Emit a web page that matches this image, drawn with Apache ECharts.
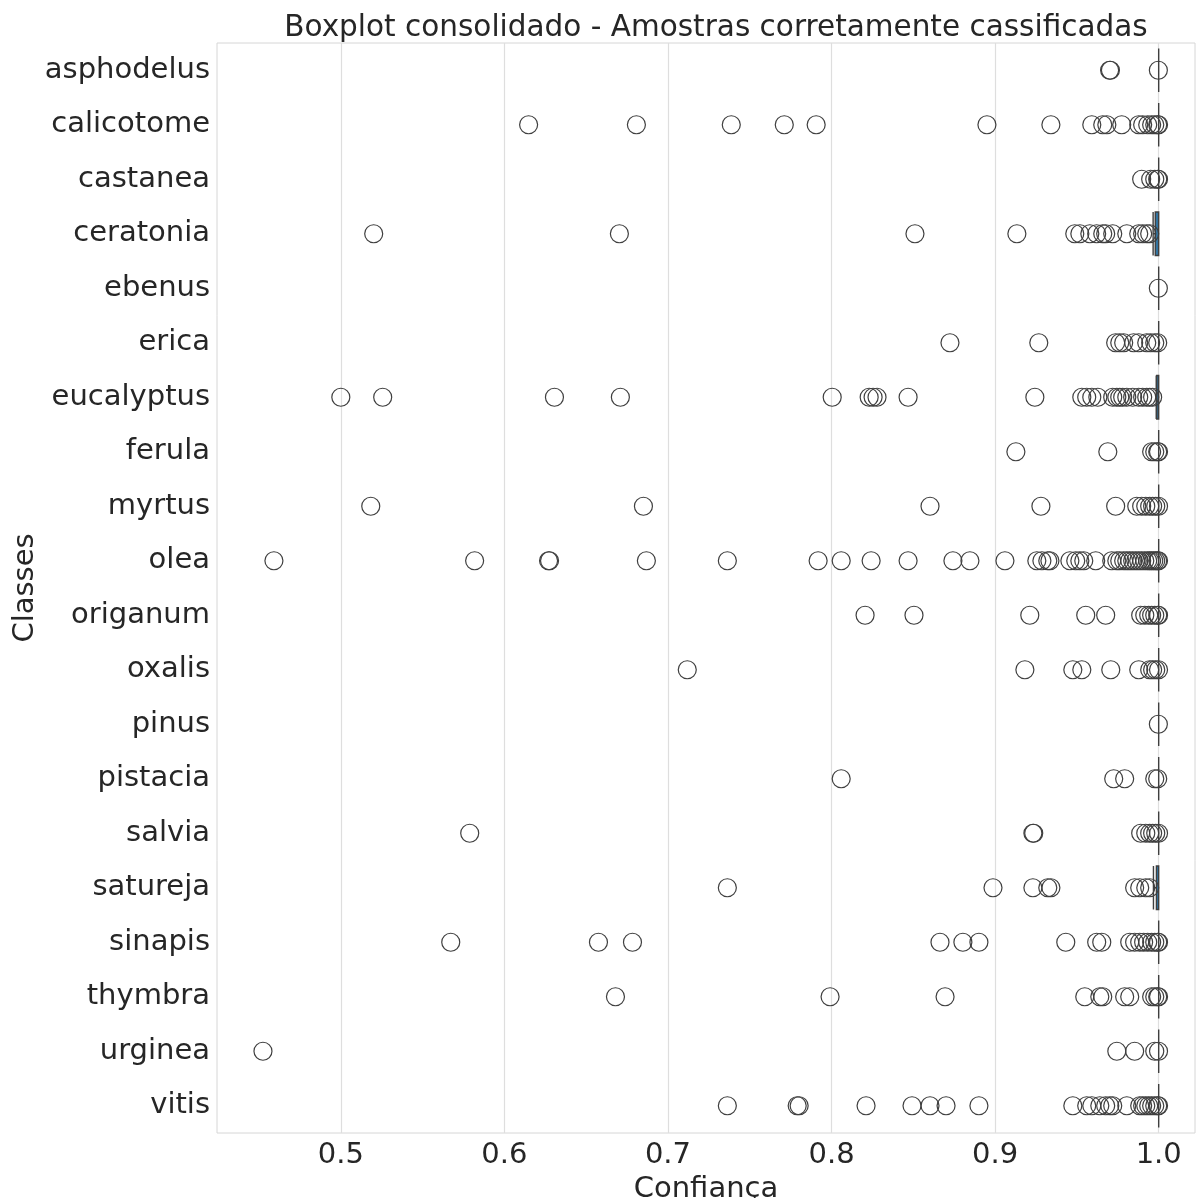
<!DOCTYPE html>
<html>
<head>
<meta charset="utf-8">
<title>Boxplot consolidado</title>
<script src="https://cdn.jsdelivr.net/npm/echarts@6/dist/echarts.min.js"></script>
<style>
  html, body { margin: 0; padding: 0; background: #ffffff; }
  #chart { width: 1196px; height: 1198px; }
</style>
</head>
<body>
<div id="chart"></div>
<script>
// Classes, top to bottom
const classes = ['asphodelus', 'calicotome', 'castanea', 'ceratonia', 'ebenus', 'erica',
  'eucalyptus', 'ferula', 'myrtus', 'olea', 'origanum', 'oxalis', 'pinus', 'pistacia',
  'salvia', 'satureja', 'sinapis', 'thymbra', 'urginea', 'vitis'];

// Box statistics per class: [whisker low, Q1, median, Q3, whisker high]
const boxStats = [
  [1.0, 1.0, 1.0, 1.0, 1.0],          // asphodelus
  [1.0, 1.0, 1.0, 1.0, 1.0],          // calicotome
  [1.0, 1.0, 1.0, 1.0, 1.0],          // castanea
  [0.9966, 0.9979, 1.0, 1.0, 1.0],    // ceratonia
  [1.0, 1.0, 1.0, 1.0, 1.0],          // ebenus
  [1.0, 1.0, 1.0, 1.0, 1.0],          // erica
  [0.9985, 0.9988, 1.0, 1.0, 1.0],    // eucalyptus
  [1.0, 1.0, 1.0, 1.0, 1.0],          // ferula
  [1.0, 1.0, 1.0, 1.0, 1.0],          // myrtus
  [1.0, 1.0, 1.0, 1.0, 1.0],          // olea
  [1.0, 1.0, 1.0, 1.0, 1.0],          // origanum
  [1.0, 1.0, 1.0, 1.0, 1.0],          // oxalis
  [1.0, 1.0, 1.0, 1.0, 1.0],          // pinus
  [1.0, 1.0, 1.0, 1.0, 1.0],          // pistacia
  [1.0, 1.0, 1.0, 1.0, 1.0],          // salvia
  [0.9968, 0.9986, 1.0, 1.0, 1.0],    // satureja
  [1.0, 1.0, 1.0, 1.0, 1.0],          // sinapis
  [1.0, 1.0, 1.0, 1.0, 1.0],          // thymbra
  [1.0, 1.0, 1.0, 1.0, 1.0],          // urginea
  [1.0, 1.0, 1.0, 1.0, 1.0]           // vitis
];

// Outlier confidences per class
const outAsphodelus = [0.970, 0.9705, 0.9998];
const outCalicotome = [0.6148, 0.6807, 0.7387, 0.7711, 0.7906, 0.895, 0.9341, 0.9591, 0.9658,
  0.9683, 0.9774, 0.9878, 0.9902, 0.9933, 0.9957, 0.9976, 0.9994, 0.9999];
const outCastanea = [0.9896, 0.9951, 0.9976, 0.9994, 0.9999];
const outCeratonia = [0.5201, 0.6703, 0.851, 0.9133, 0.9487, 0.9518, 0.9579, 0.9621, 0.9658,
  0.9676, 0.9719, 0.9805, 0.9878, 0.9902, 0.9927, 0.9945];
const outEbenus = [0.9998];
const outErica = [0.8724, 0.9267, 0.9737, 0.9762, 0.9786, 0.9847, 0.9878, 0.9927, 0.9951,
  0.9976, 0.9994];
const outEucalyptus = [0.5, 0.5256, 0.6306, 0.6709, 0.8004, 0.823, 0.8254, 0.8278, 0.8468,
  0.9243, 0.953, 0.956, 0.9591, 0.9628, 0.9719, 0.9744, 0.9762, 0.978, 0.9805, 0.9841,
  0.9878, 0.9902, 0.9927, 0.9945, 0.9963];
const outFerula = [0.9127, 0.9689, 0.9957, 0.9976, 0.9994, 0.9999];
const outMyrtus = [0.5183, 0.685, 0.8602, 0.928, 0.9737, 0.9866, 0.9896, 0.9921, 0.9945,
  0.9963, 0.9982, 0.9999];
const outOlea = [0.4591, 0.5818, 0.627, 0.6276, 0.6868, 0.7363, 0.7918, 0.8059, 0.8242,
  0.8468, 0.8742, 0.8846, 0.906, 0.9255, 0.9286, 0.9322, 0.9335, 0.9457, 0.9493, 0.9518,
  0.9542, 0.9615, 0.9713, 0.9744, 0.9762, 0.9786, 0.9805, 0.9823, 0.9841, 0.986, 0.9878,
  0.9896, 0.9915, 0.9933, 0.9945, 0.9957, 0.997, 0.9982, 0.9994, 0.9999];
const outOriganum = [0.8205, 0.8504, 0.9212, 0.9554, 0.9676, 0.989, 0.9915, 0.9939, 0.9957,
  0.9976, 0.9994, 0.9999];
const outOxalis = [0.7118, 0.9182, 0.9475, 0.953, 0.9707, 0.9878, 0.9945, 0.9963, 0.9982,
  0.9999];
const outPinus = [0.9998];
const outPistacia = [0.8059, 0.9725, 0.9792, 0.9976, 0.9994];
const outSalvia = [0.5788, 0.9231, 0.9236, 0.989, 0.9921, 0.9945, 0.9963, 0.9982, 0.9999];
const outSatureja = [0.7363, 0.8987, 0.9231, 0.9322, 0.9341, 0.9853, 0.9884, 0.9921, 0.9945];
const outSinapis = [0.5672, 0.6575, 0.6783, 0.8663, 0.8803, 0.8901, 0.9432, 0.9621, 0.9652,
  0.9823, 0.9853, 0.9884, 0.9908, 0.9933, 0.9957, 0.9976, 0.9994, 0.9999];
const outThymbra = [0.6679, 0.7991, 0.8694, 0.9548, 0.964, 0.9658, 0.9792, 0.9823, 0.9957,
  0.9976, 0.9994, 0.9999];
const outUrginea = [0.4524, 0.9744, 0.9853, 0.9976, 0.9999];
const outVitis = [0.7363, 0.779, 0.7802, 0.8211, 0.8492, 0.8602, 0.87, 0.8901, 0.9475, 0.956,
  0.9591, 0.964, 0.9676, 0.9701, 0.9719, 0.9805, 0.9884, 0.9902, 0.9921, 0.9939, 0.9957,
  0.9976, 0.9994, 0.9999];

const outliersByClass = [outAsphodelus, outCalicotome, outCastanea, outCeratonia, outEbenus,
  outErica, outEucalyptus, outFerula, outMyrtus, outOlea, outOriganum, outOxalis, outPinus,
  outPistacia, outSalvia, outSatureja, outSinapis, outThymbra, outUrginea, outVitis];

// Axis ticks
const xTicks = [0.5, 0.6, 0.7, 0.8, 0.9, 1.0];
const xMin = 0.4243;
const xMax = 1.0222;

const outlierPoints = [];
outliersByClass.forEach((vals, i) => {
  vals.forEach(v => outlierPoints.push([v, classes[i]]));
});

const FONT = 'DejaVu Sans';
const TEXT = '#262626';
const LINE = '#3f3f3f';
const FS = 29;

const chart = echarts.init(document.getElementById('chart'), null, { renderer: 'canvas' });

// Frame of the plotting area
const frame = { left: 217, right: 1, top: 43, bottom: 65 };

chart.setOption({
  animation: false,
  backgroundColor: '#ffffff',
  title: {
    text: 'Boxplot consolidado - Amostras corretamente cassificadas',
    left: 711,
    textAlign: 'center',
    top: 8,
    textStyle: { fontFamily: FONT, fontSize: 29.5, fontWeight: 'normal', color: TEXT }
  },
  grid: {
    left: frame.left, right: frame.right, top: frame.top, bottom: frame.bottom,
    outerBoundsMode: 'none',
    containLabel: false,
    show: true, borderColor: '#d6d6d6', borderWidth: 1, backgroundColor: 'transparent'
  },
  xAxis: {
    type: 'value',
    min: xMin,
    max: xMax,
    name: 'Confiança',
    nameLocation: 'middle',
    nameGap: 42,
    nameMoveOverlap: false,
    nameTextStyle: { fontFamily: FONT, fontSize: FS, color: TEXT },
    axisLine: { show: false },
    axisTick: { show: false, customValues: xTicks },
    axisLabel: {
      customValues: xTicks,
      formatter: v => v.toFixed(1),
      fontFamily: FONT, fontSize: FS, color: TEXT, margin: 8
    },
    splitLine: { show: true, lineStyle: { color: '#dedede', width: 1.2 } }
  },
  yAxis: {
    type: 'category',
    data: classes,
    inverse: true,
    name: 'Classes',
    nameLocation: 'middle',
    nameGap: 177,
    nameMoveOverlap: false,
    nameRotate: 90,
    nameTextStyle: { fontFamily: FONT, fontSize: FS, color: TEXT },
    axisLine: { show: false },
    axisTick: { show: false },
    axisLabel: { fontFamily: FONT, fontSize: FS, color: TEXT, margin: 7, padding: [3, 0, 0, 0] },
    splitLine: { show: false }
  },
  series: [
    {
      type: 'boxplot',
      data: boxStats,
      boxWidth: ['80%', '80%'],
      itemStyle: { color: '#3274a1', borderColor: LINE, borderWidth: 1.4 },
      z: 3
    },
    {
      type: 'scatter',
      data: outlierPoints,
      symbol: 'circle',
      symbolSize: 18,
      itemStyle: { color: 'rgba(0,0,0,0)', borderColor: LINE, borderWidth: 1.2, opacity: 1 },
      z: 4
    }
  ]
});
</script>
</body>
</html>
